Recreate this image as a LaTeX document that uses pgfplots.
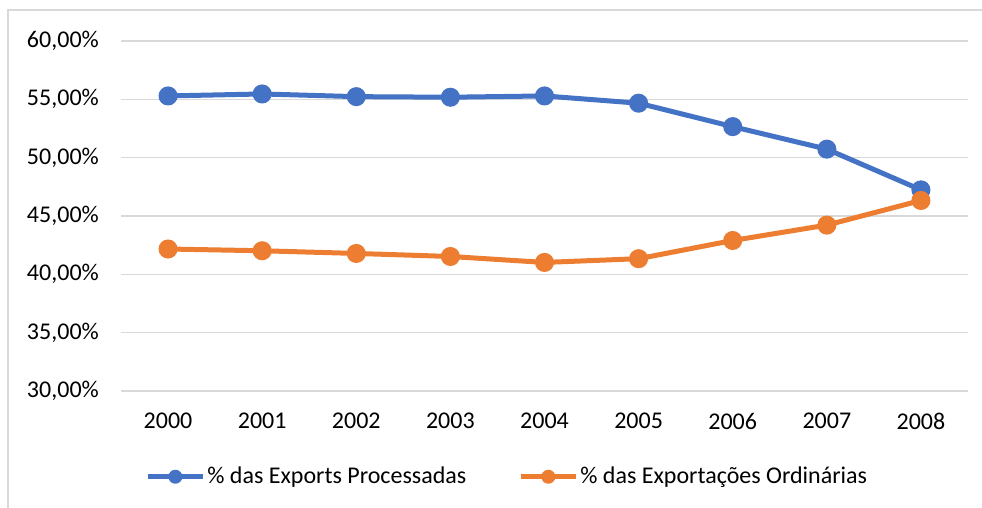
\documentclass[border=0pt]{standalone}
\usepackage{pgfplots}
\pgfplotsset{compat=1.18}
\usepackage{fontspec}
\setmainfont{Carlito}
\definecolor{cblue}{HTML}{4472C4}
\definecolor{corange}{HTML}{ED7D31}
\definecolor{cgrid}{HTML}{D9D9D9}
\begin{document}
\fontsize{24}{28}\selectfont
\begin{tikzpicture}[x=1pt,y=1pt]
\path[use as bounding box] (0,0) rectangle (982,508);
\draw[cgrid, line width=1.5pt] (8,0) -- (8,498) -- (982,498);
\begin{axis}[
  at={(121pt,117pt)}, anchor=south west,
  scale only axis, width=847pt, height=350pt,
  xmin=-0.5, xmax=8.5, ymin=30, ymax=60,
  xtick={0,...,8},
  xticklabels={2000,2001,2002,2003,2004,2005,2006,2007,2008},
  ytick={30,35,40,45,50,55,60},
  yticklabels={{30,00\%},{35,00\%},{40,00\%},{45,00\%},{50,00\%},{55,00\%},{60,00\%}},
  axis line style={draw=none},
  tick style={draw=none},
  ymajorgrids, grid style={cgrid, line width=1.5pt},
  yticklabel style={xshift=-14pt},
  xticklabel style={yshift=-14pt},
  tick label style={font=\fontsize{24}{28}\selectfont},
  legend style={at={(0.456,-0.245)}, anchor=center, draw=none, fill=none,
    font=\fontsize{24}{28}\selectfont, /tikz/every even column/.append style={column sep=50pt}},
  legend columns=2,
  legend image code/.code={
    \draw[#1, mark=none] (0pt,0pt) -- (55pt,0pt);
    \fill[#1, draw=none] (27.5pt,0pt) circle (7pt);
  },
]
\addplot[cblue, line width=5pt, mark=*, mark size=7pt, mark options={solid}] coordinates {
(0,55.29) (1,55.46) (2,55.23) (3,55.18) (4,55.29) (5,54.67) (6,52.66) (7,50.73) (8,47.24)};
\addlegendentry{\% das Exports Processadas}
\addplot[corange, line width=5pt, mark=*, mark size=7pt, mark options={solid}] coordinates {
(0,42.17) (1,42.02) (2,41.79) (3,41.53) (4,41.02) (5,41.34) (6,42.90) (7,44.22) (8,46.33)};
\addlegendentry{\% das Exportações Ordinárias}
\end{axis}
\end{tikzpicture}
\end{document}
